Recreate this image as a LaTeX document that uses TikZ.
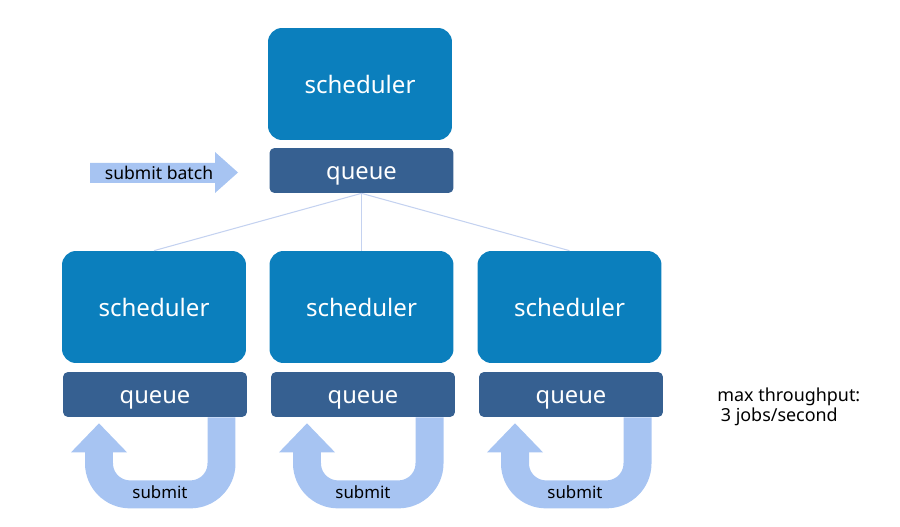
\documentclass[tikz,border=0pt]{standalone}
\usepackage{fontspec}
\setmainfont{Noto Sans}
\usepackage{tikz}
\usetikzlibrary{calc}

\definecolor{schedblue}{RGB}{11,127,189}
\definecolor{queueblue}{RGB}{54,96,145}
\definecolor{arrowblue}{RGB}{167,196,242}
\definecolor{linkblue}{RGB}{196,210,240}

\begin{document}
\begin{tikzpicture}[x=0.02cm,y=-0.02cm,
		schedbox/.style={fill=schedblue,rounded corners=0.28cm,minimum width=3.68cm,minimum height=2.24cm,text=white,font=\fontsize{13.7}{16}\selectfont},
		queuebox/.style={fill=queueblue,rounded corners=0.1cm,minimum width=3.68cm,minimum height=0.9cm,text=white,text height=1.9ex,text depth=0pt,font=\fontsize{13.5}{16}\selectfont},
		link/.style={draw=linkblue,line width=0.6pt},
		uturn/.style={draw=arrowblue,line width=0.56cm,rounded corners=0.62cm},
		uhead/.style={fill=arrowblue},
		small/.style={font=\fontsize{9.6}{11}\selectfont,inner sep=0pt}]
			\def\dx{208}
			
			\useasboundingbox (0,0) rectangle (900,527);
			
			\node[schedbox] (s0) at (360,84) {scheduler};
			\node[queuebox] (q0) at (361.5,170.5) {queue};
			
			\node[schedbox] (s1) at (154,307) {scheduler};
			\node[schedbox] (s2) at (361.5,307) {scheduler};
			\node[schedbox] (s3) at (569.5,307) {scheduler};
			\node[queuebox] (q1) at (155,394.5) {queue};
			\node[queuebox] (q2) at (363,394.5) {queue};
			\node[queuebox] (q3) at (571,394.5) {queue};
			
			\draw[link] (q0.south) -- (s1.north);
			\draw[link] (q0.south) -- (s2.north);
			\draw[link] (q0.south) -- (s3.north);
			
			% incoming batch
			\fill[arrowblue] (90,163) -- (215,163) -- (215,152) -- (238,172.5) -- (215,193) -- (215,183) -- (90,183) -- cycle;
			\node[small,font=\fontsize{10}{11}\selectfont] (batch) at (159,173) {submit batch};
			
			% resubmit loops
			\draw[uturn] ($(q1.south)+(66.5,0)$) -- ++(0,77) -- ++(-122.5,0) -- ++(0,-43);
			\fill[uhead] ($(q1.south)+(-84,35)$) -- ++(56,0) -- ++(-28,-29) -- cycle;
			\node[small] (sub1) at (160,492) {submit};
			
			\draw[uturn] ($(q2.south)+(66.5,0)$) -- ++(0,77) -- ++(-122.5,0) -- ++(0,-43);
			\fill[uhead] ($(q2.south)+(-84,35)$) -- ++(56,0) -- ++(-28,-29) -- cycle;
			\node[small] (sub2) at (363,492) {submit};
			
			\draw[uturn] ($(q3.south)+(66.5,0)$) -- ++(0,77) -- ++(-122.5,0) -- ++(0,-43);
			\fill[uhead] ($(q3.south)+(-84,35)$) -- ++(56,0) -- ++(-28,-29) -- cycle;
			\node[small] (sub3) at (575,492) {submit};
			
			\node[anchor=west,align=left,inner sep=0pt,font=\fontsize{10.2}{10}\selectfont] (rate) at (717,407) {max throughput:\\\hspace{2pt}3 jobs/second};
		\end{tikzpicture}
\end{document}
